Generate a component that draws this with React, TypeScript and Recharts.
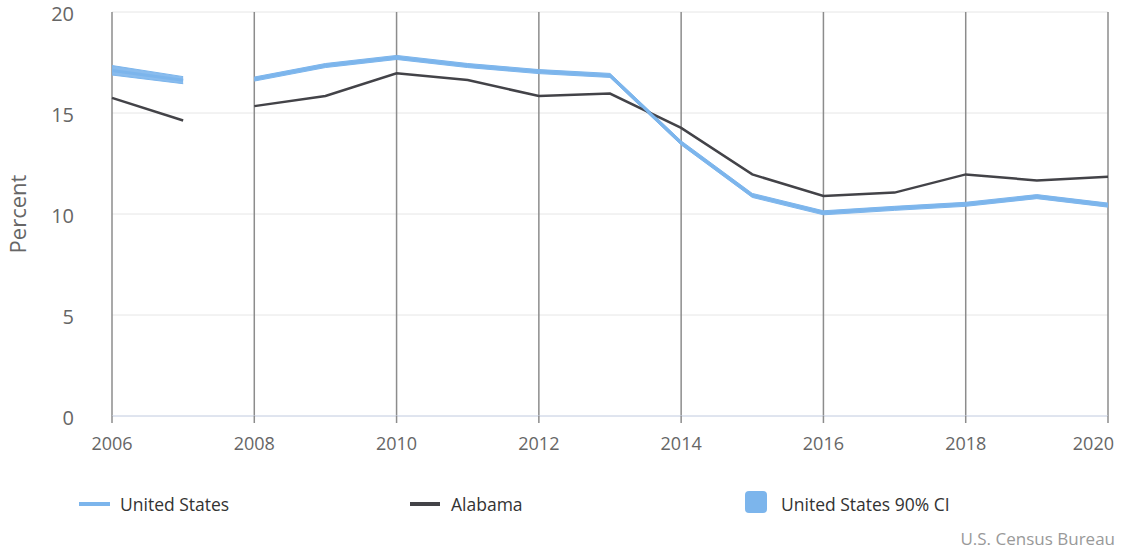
import React from "react";
import {
  ComposedChart,
  Line,
  Area,
  XAxis,
  YAxis,
  CartesianGrid,
} from "recharts";

const years = [2006, 2007, 2008, 2009, 2010, 2011, 2012, 2013, 2014, 2015, 2016, 2017, 2018, 2019, 2020];
const usValues = [17.1, 16.62, 16.68, 17.35, 17.75, 17.35, 17.05, 16.86, 13.52, 10.92, 10.06, 10.28, 10.48, 10.86, 10.44];
const usLow = [16.88, 16.45, 16.58, 17.25, 17.65, 17.25, 16.95, 16.76, 13.42, 10.82, 9.96, 10.18, 10.38, 10.76, 10.34];
const usHigh = [17.35, 16.8, 16.78, 17.45, 17.85, 17.45, 17.15, 16.96, 13.62, 11.02, 10.16, 10.38, 10.58, 10.96, 10.54];
const alabamaValues = [15.75, 14.63, 15.34, 15.84, 16.97, 16.63, 15.84, 15.96, 14.26, 11.96, 10.89, 11.06, 11.96, 11.66, 11.85];

// the series are not comparable across this break, so the lines stop here
const lastYearBeforeBreak = 2007;

const xTicks = [2006, 2008, 2010, 2012, 2014, 2016, 2018, 2020];
const yTicks = [0, 5, 10, 15, 20];

const segments = ["early", "late"];

const US_BLUE = "#7cb5ec";
const AL_DARK = "#434348";
const FONT = "'Open Sans', sans-serif";

const rows = years.map((year, i) => {
  const seg = year <= lastYearBeforeBreak ? "early" : "late";
  return {
    year,
    [`us_${seg}`]: usValues[i],
    [`ci_${seg}`]: [usLow[i], usHigh[i]],
    [`al_${seg}`]: alabamaValues[i],
  };
});

function YTitle({ viewBox }: any) {
  const cx = viewBox.x + 17;
  const cy = viewBox.y + viewBox.height / 2;
  return (
    <text
      x={cx}
      y={cy}
      transform={`rotate(-90 ${cx} ${cy})`}
      textAnchor="middle"
      dominantBaseline="central"
      fill="#666"
      fontSize={22}
      fontFamily={FONT}
    >
      Percent
    </text>
  );
}

// last label is pulled inside the chart like the original does
function YearTick({ x, y, payload }: any) {
  const isLast = payload.value === xTicks[xTicks.length - 1];
  return (
    <text
      x={isLast ? x + 9 : x}
      y={y}
      dy="0.71em"
      textAnchor={isLast ? "end" : "middle"}
      fontSize={18}
      fill="#666"
      fontFamily={FONT}
    >
      {payload.value}
    </text>
  );
}

// value labels sit a touch below their grid line
function PercentTick({ x, y, payload }: any) {
  return (
    <text x={x} y={y + 2} dy="0.36em" textAnchor="end" fontSize={20} fill="#666" fontFamily={FONT}>
      {payload.value}
    </text>
  );
}

const legendText: React.CSSProperties = {
  position: "absolute",
  top: 493,
  fontSize: 17.5,
  color: "#333",
  lineHeight: "22px",
  whiteSpace: "nowrap",
};

function LegendRow() {
  return (
    <>
      <div style={{ position: "absolute", left: 79, top: 502, width: 31, height: 4, background: US_BLUE }} />
      <div style={{ ...legendText, left: 120 }}>United States</div>
      <div style={{ position: "absolute", left: 410, top: 502, width: 30, height: 4, background: AL_DARK }} />
      <div style={{ ...legendText, left: 451 }}>Alabama</div>
      <div style={{ position: "absolute", left: 745, top: 491, width: 22, height: 22, borderRadius: 4, background: US_BLUE }} />
      <div style={{ ...legendText, left: 781 }}>United States 90% CI</div>
      <div style={{ position: "absolute", right: 6, top: 528, fontSize: 17, color: "#999", lineHeight: "22px" }}>
        U.S. Census Bureau
      </div>
    </>
  );
}

export default function App() {
  return (
    <div style={{ position: "absolute", left: 0, top: 0, width: 1121, height: 550, fontFamily: FONT, background: "#fff" }}>
      <ComposedChart width={1121} height={550} data={rows} margin={{ top: 12, right: 13, bottom: 94, left: 0 }}>
        <CartesianGrid vertical={false} stroke="#e6e6e6" />
        <CartesianGrid horizontal={false} stroke="#8c8c8c" strokeWidth={1.5} />
        <XAxis
          dataKey="year"
          type="number"
          domain={[2006, 2020]}
          ticks={xTicks}
          height={40}
          axisLine={{ stroke: "#ccd6eb" }}
          tickLine={{ stroke: "#8c8c8c", strokeWidth: 1.5 }}
          tickSize={7}
          tickMargin={14}
          tick={<YearTick />}
        />
        <YAxis
          domain={[0, 20]}
          ticks={yTicks}
          width={112}
          axisLine={false}
          tickLine={false}
          tickSize={0}
          tickMargin={38}
          tick={<PercentTick />}
          label={{ content: YTitle }}
        />
        {segments.map((seg) => (
          <Line
            key={`al_${seg}`}
            dataKey={`al_${seg}`}
            stroke={AL_DARK}
            strokeWidth={2.5}
            dot={false}
            activeDot={false}
            isAnimationActive={false}
          />
        ))}
        {segments.map((seg) => (
          <Area
            key={`ci_${seg}`}
            dataKey={`ci_${seg}`}
            stroke={US_BLUE}
            strokeWidth={1}
            fill={US_BLUE}
            fillOpacity={0.9}
            dot={false}
            activeDot={false}
            isAnimationActive={false}
          />
        ))}
        {segments.map((seg) => (
          <Line
            key={`us_${seg}`}
            dataKey={`us_${seg}`}
            stroke={US_BLUE}
            strokeWidth={3}
            dot={false}
            activeDot={false}
            isAnimationActive={false}
          />
        ))}
      </ComposedChart>
      <LegendRow />
    </div>
  );
}
